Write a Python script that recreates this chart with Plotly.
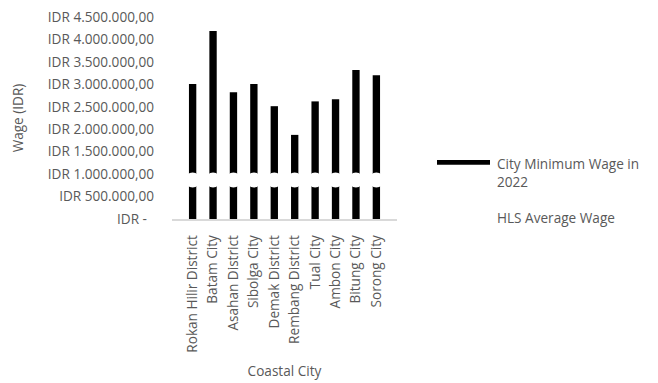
import plotly.graph_objects as go

cities = ["Rokan Hilir District", "Batam City", "Asahan District", "Sibolga City",
          "Demak District", "Rembang District", "Tual City", "Ambon City",
          "Bitung City", "Sorong City"]
min_wage_2022 = [3007000, 4186359, 2822000, 3007000, 2513005, 1874000,
                 2620000, 2665000, 3318000, 3200000]
hls_avg_wage = [870000, 870000, 870000, 870000, 870000, 870000,
                870000, 870000, 870000, 870000]

tick_vals = [0, 500000, 1000000, 1500000, 2000000, 2500000, 3000000, 3500000, 4000000, 4500000]
tick_text = ["IDR -\u00a0\u00a0", "IDR 500.000,00", "IDR 1.000.000,00", "IDR 1.500.000,00",
             "IDR 2.000.000,00", "IDR 2.500.000,00", "IDR 3.000.000,00", "IDR 3.500.000,00",
             "IDR 4.000.000,00", "IDR 4.500.000,00"]

series_names = ["City Minimum Wage in<br>2022", "HLS Average Wage"]

FONT = "Open Sans"
GREY = "#595959"
FS = 13.6

fig = go.Figure()
fig.add_trace(go.Bar(x=cities, y=min_wage_2022, name=series_names[0],
                     marker=dict(color="black", line=dict(width=0)), showlegend=False))
fig.add_trace(go.Scatter(x=cities, y=hls_avg_wage, name=series_names[1], mode="lines+markers",
                         line=dict(color="white", width=10),
                         marker=dict(color="white", size=15), showlegend=False))

fig.update_layout(
    width=658, height=383,
    margin=dict(l=172, r=261, t=17, b=164),
    paper_bgcolor="white", plot_bgcolor="white",
    bargap=0.64,
    font=dict(family=FONT, size=FS, color=GREY),
    xaxis=dict(showgrid=False, showline=True, linecolor="#d9d9d9", linewidth=1.5,
               tickangle=-90, ticks="", tickfont=dict(size=FS, color=GREY),
               ticklabelstandoff=9, automargin=False,
               title=dict(text="Coastal City", font=dict(size=FS, color=GREY), standoff=15)),
    yaxis=dict(showgrid=False, showline=False, zeroline=False, range=[0, 4500000],
               tickvals=tick_vals, ticktext=tick_text, ticks="",
               tickfont=dict(size=FS, color=GREY), ticklabelstandoff=17,
               automargin=False,
               title=dict(text="Wage (IDR)", font=dict(size=FS, color=GREY), standoff=21)),
)

# manual legend (Excel-style wide key)
fig.add_shape(type="rect", xref="paper", yref="paper",
              x0=(437 - 172) / 225, x1=(490 - 172) / 225,
              y0=(219.3 - 165) / 202.6, y1=(219.3 - 160) / 202.6,
              fillcolor="black", line=dict(width=0))
fig.add_annotation(xref="paper", yref="paper", x=(495 - 172) / 225, y=(219.3 - 173) / 202.6,
                   text=series_names[0], showarrow=False, xanchor="left", yanchor="middle",
                   align="left", font=dict(size=FS, color=GREY, family=FONT))
fig.add_annotation(xref="paper", yref="paper", x=(495 - 172) / 225, y=(219.3 - 218) / 202.6,
                   text=series_names[1], showarrow=False, xanchor="left", yanchor="middle",
                   align="left", font=dict(size=FS, color=GREY, family=FONT))

fig.write_html("out.html")
